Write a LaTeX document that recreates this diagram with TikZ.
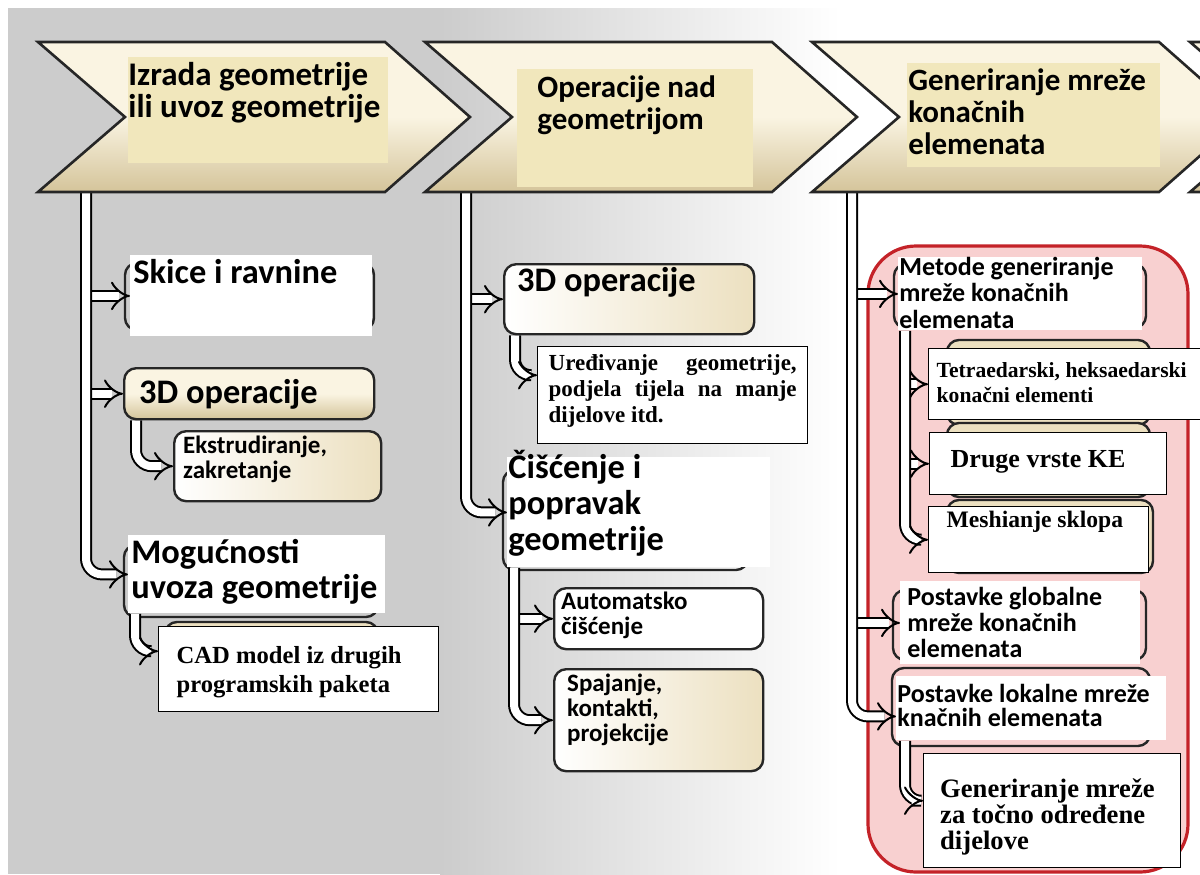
\documentclass[tikz,border=0pt]{standalone}
\usepackage{fontspec}
\setmainfont{Liberation Serif}
\newfontfamily\carlito{Carlito}
\usetikzlibrary{arrows.meta}
\definecolor{chevtop}{RGB}{250,244,226}
\definecolor{chevbot}{RGB}{212,196,154}
\definecolor{hdrfill}{RGB}{241,231,188}
\definecolor{cream}{RGB}{236,224,192}
\definecolor{pinkfill}{RGB}{248,208,208}
\definecolor{redline}{RGB}{196,34,40}
\pgfdeclarelayer{paper}
\pgfdeclarelayer{under}
\pgfdeclarelayer{links}
\pgfsetlayers{paper,under,links,main}
\tikzset{
	chev/.style={draw=black!85, line width=1.3pt, top color=chevtop, bottom color=chevbot, middle color=chevtop},
	hdr/.style={fill=hdrfill, anchor=north west, align=flush left, inner ysep=0pt, font=\carlito\bfseries\fontsize{15.5}{16}\selectfont},
	rbox/.style={draw=black!85, line width=1.2pt, rounded corners=6pt, left color=white, right color=cream, anchor=north west, align=flush left, inner ysep=0pt},
	brk/.style={fill=white, anchor=north west, align=flush left, inner ysep=0pt},
	tbox/.style={draw, line width=0.7pt, fill=white, anchor=north west, align=flush left, inner ysep=0pt},
	hidbox/.style={draw=black!85, line width=1.2pt, rounded corners=6pt, fill=cream},
	brkline/.style={draw=black!85, line width=1.2pt, rounded corners=6pt},
	link/.style={draw=black, line width=1pt, double=white, double distance=4pt, rounded corners=8pt, -{Implies}},
	bigtxt/.style={font=\carlito\bfseries\fontsize{17.2}{17.5}\selectfont},
	subtxt/.style={font=\carlito\bfseries\fontsize{12.5}{12.5}\selectfont},
	midtxt/.style={font=\carlito\bfseries\fontsize{13}{13}\selectfont}
}
\begin{document}
\begin{tikzpicture}[x=0.5pt, y=-0.5pt]
	\useasboundingbox (0,0) rectangle (1200,874);
	\clip (0,0) rectangle (1200,874);
	\begin{pgfonlayer}{paper}
	\fill[white] (0,0) rectangle (1200,874);
	\fill[gray!40] (8,8) rectangle (440,874);
	\shade[left color=gray!40, right color=white] (440,8) rectangle (840,874);
	\draw[redline, line width=1.6pt, fill=pinkfill, rounded corners=24pt] (868,246) rectangle (1188,872);
	\end{pgfonlayer}
	\foreach \x in {38,425,812,1190}
		\draw[chev] (\x,42) -- ++(347,0) -- ++(85,75) -- ++(-85,75) -- ++(-347,0) -- ++(87,-75) -- cycle;
	\node[hdr, font=\carlito\bfseries\fontsize{16.5}{16}\selectfont, text width=130pt, inner xsep=0pt, text height=14pt, text depth=39pt] (h1) at (128,57) {Izrada geometrije\\ili uvoz geometrije};
	\node[hdr, text width=98pt, inner xsep=10pt, text height=14pt, text depth=45pt] (h2) at (517,69) {Operacije nad\\geometrijom};
	\node[hdr, text width=125.5pt, inner xsep=0.5pt, text height=13.5pt, text depth=38.5pt] (h3) at (907,63) {Generiranje mreže\\konačnih\\elemenata};

	\node[brk, bigtxt, text width=118pt, inner xsep=1.5pt, text height=14pt, text depth=26.5pt] (skice) at (130,255) {Skice i ravnine};
	\node[rbox, bigtxt, top color=chevtop, bottom color=chevbot, middle color=chevtop, text width=110pt, inner xsep=7.5pt, text height=17.5pt, text depth=8pt] (op1) at (123,367) {3D operacije};
	\node[rbox, subtxt, text width=94.5pt, inner xsep=4.5pt, text height=11pt, text depth=24pt] (ekstr) at (173,430) {Ekstrudiranje,\\zakretanje};
	\node[brk, bigtxt, text width=125.5pt, inner xsep=1.5pt, text height=14pt, text depth=25pt] (mog) at (128,535) {Mogućnosti\\uvoza geometrije};
	\node[tbox, font=\bfseries\fontsize{12.3}{14.5}\selectfont, text width=122pt, inner xsep=9pt, text height=18.5pt, text depth=24pt] (cad) at (158,626) {CAD model iz drugih\\programskih paketa};

	\node[rbox, bigtxt, text width=112pt, inner xsep=6.5pt, text height=13.5pt, text depth=21.5pt] (op2) at (503,263) {3D operacije};
	\node[tbox, align=justify, font=\bfseries\fontsize{11.5}{13}\selectfont, text width=124pt, inner xsep=5.5pt, text height=12pt, text depth=36.5pt] (ured) at (537,346) {Uređivanje geometrije, podjela tijela na manje dijelove itd.};
	\node[brk, font=\carlito\bfseries\fontsize{17.2}{18}\selectfont, text width=130.5pt, inner xsep=0.5pt, text height=10.5pt, text depth=44.5pt] (cis) at (507,457) {Čišćenje i\\popravak\\geometrije};
	\node[rbox, subtxt, right color=white, text width=97.5pt, inner xsep=3.5pt, text height=10.5pt, text depth=20pt] (auto) at (553,587) {Automatsko\\čišćenje};
	\node[rbox, subtxt, text width=91.5pt, inner xsep=6.5pt, text height=11pt, text depth=40pt] (spaj) at (553,668) {Spajanje,\\kontakti,\\projekcije};

	\node[brk, font=\carlito\bfseries\fontsize{13}{13.25}\selectfont, text width=121pt, inner xsep=0.5pt, text height=9pt, text depth=27.5pt] (metode) at (898,257) {Metode generiranje\\mreže konačnih\\elemenata};
	\node[tbox, font=\bfseries\fontsize{10.8}{12.5}\selectfont, text width=128pt, inner xsep=4pt, text height=14.5pt, text depth=21pt] (tetra) at (928,348) {Tetraedarski, heksaedarski\\konačni elementi};
	\node[tbox, font=\bfseries\fontsize{13}{13}\selectfont, text width=97.5pt, inner xsep=10.5pt, text height=17.5pt, text depth=13.5pt] (druge) at (929,432) {Druge vrste KE};
	\node[tbox, font=\bfseries\fontsize{11.8}{12}\selectfont, text width=92pt, inner xsep=9pt, text height=10.5pt, text depth=22.5pt] (mesh) at (928,506) {Meshianje sklopa};
	\node[brk, midtxt, text width=113pt, inner xsep=3.5pt, text height=12pt, text depth=29.5pt] (glob) at (900,581) {Postavke globalne\\mreže konačnih\\elemenata};
	\node[brk, font=\carlito\bfseries\fontsize{13}{12}\selectfont, text width=134pt, inner xsep=0.5pt, text height=13pt, text depth=19pt] (lok) at (896,676) {Postavke lokalne mreže\\knačnih elemenata};
	\node[tbox, font=\bfseries\fontsize{13.3}{13}\selectfont, text width=112pt, inner xsep=8.25pt, text height=22pt, text depth=35pt] (gen) at (923,753) {Generiranje mreže\\za točno određene\\dijelove};

	\coordinate (t1) at (86,190);
	\coordinate (t2) at (466,190);
	\coordinate (t3) at (852,190);
	\coordinate (s1) at ([xshift=6.5pt]op1.south west);
	\coordinate (s2) at ([xshift=3.5pt]mog.south west);
	\coordinate (s3) at ([xshift=6pt]op2.south west);
	\coordinate (s4) at ([xshift=3.5pt]cis.south west);
	\coordinate (s5) at ([xshift=3.5pt]metode.south west);
	\coordinate (s6) at ([xshift=4.5pt]lok.south west);

	\begin{pgfonlayer}{under}
	\draw[brkline] (125,263) rectangle (374,330);
	\draw[brkline] (124,545) rectangle (378,617);
	\draw[brkline] (503,470) rectangle (748,570);
	\draw[brkline] (894,264) rectangle (1146,328);
	\draw[brkline] (893,590) rectangle (1146,660);
	\draw[brkline] (892,668) rectangle (1150,746);
	\draw[hidbox] (165,622) rectangle (378,705);
	\draw[hidbox] (947,340) rectangle (1150,425);
	\draw[hidbox] (947,423) rectangle (1150,497);
	\draw[hidbox] (947,500) rectangle (1153,573);
	\end{pgfonlayer}

	\begin{pgfonlayer}{links}
	\draw[link] (t1 |- skice.west) -- (skice.west);
	\draw[link] (t1 |- op1.west) -- (op1.west);
	\draw[link] (t1) |- (mog.west);
	\draw[link] (s1) |- (ekstr.west);
	\draw[link] (s2) |- ([yshift=9pt]cad.west);
	\draw[link] (t2 |- op2.west) -- (op2.west);
	\draw[link] (t2) |- (cis.west);
	\draw[link] (s3) |- ([yshift=10pt]ured.west);
	\draw[link] (s4 |- auto.west) -- (auto.west);
	\draw[link] (s4) |- (spaj.west);
	\draw[link] (t3 |- metode.west) -- (metode.west);
	\draw[link] (t3 |- glob.west) -- (glob.west);
	\draw[link] (t3) |- ([yshift=-4pt]lok.west);
	\draw[link] (s5 |- tetra.west) -- (tetra.west);
	\draw[link] (s5 |- druge.west) -- (druge.west);
	\draw[link] (s5) |- (mesh.west);
	\draw[link] (s6) |- ([yshift=5pt]gen.west);
	\end{pgfonlayer}
\end{tikzpicture}
\end{document}
